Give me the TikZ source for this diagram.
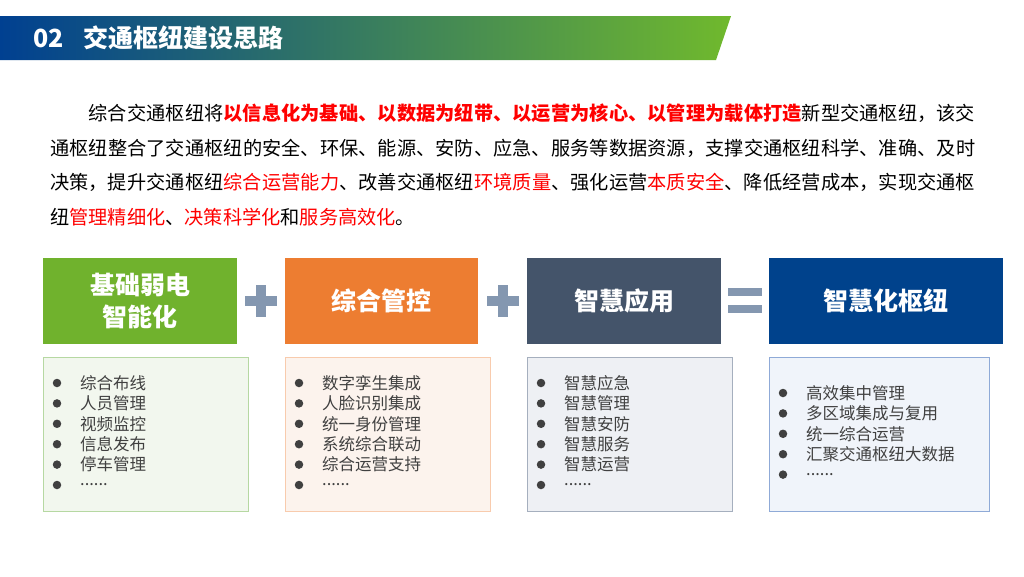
\documentclass[tikz,border=0pt]{standalone}
\usepackage{fontspec}
\setmainfont{Noto Sans CJK SC}
\XeTeXlinebreaklocale "zh"
\XeTeXlinebreakskip=0pt plus 1pt minus 0.5pt
\usepackage{xcolor}
\usepackage{tikz}
\usetikzlibrary{positioning, calc}
\definecolor{BannerBlue} {RGB}{0,  64, 145}
\definecolor{BannerGreen}{RGB}{112,185,45}
\definecolor{HeadGreen}  {RGB}{112,178,45}
\definecolor{HeadOrange} {RGB}{237,125,49}
\definecolor{HeadSlate}  {RGB}{68, 84, 106}
\definecolor{HeadBlue}   {RGB}{0,  66, 140}
\definecolor{SignGray}   {RGB}{132,151,176}
\definecolor{ItemText}   {RGB}{64, 64, 64}
\definecolor{KeyRed}     {RGB}{255,0,  0}
\definecolor{ListGreen}  {RGB}{242,247,238}
\definecolor{EdgeGreen}  {RGB}{182,216,162}
\definecolor{ListOrange} {RGB}{252,243,237}
\definecolor{EdgeOrange} {RGB}{248,203,173}
\definecolor{ListSlate}  {RGB}{238,240,244}
\definecolor{EdgeSlate}  {RGB}{165,175,190}
\definecolor{ListBlue}   {RGB}{240,244,250}
\definecolor{EdgeBlue}   {RGB}{143,170,215}
\newcommand{\moredots}{......}

\begin{document}
\begin{tikzpicture}[x=1pt,y=-1pt,
    head/.style={minimum height=86pt,inner sep=0pt,text=white,align=center,font=\fontsize{25}{32}\selectfont\bfseries},
    listbox/.style={minimum height=154pt,inner sep=0pt,anchor=north west},
    item/.style={anchor=west,inner sep=0pt,text=ItemText,font=\fontsize{16.5}{20}\selectfont},
    dot/.style={circle,fill=ItemText,inner sep=0pt,minimum size=8.5pt}]
  \fill[white] (0,0) rectangle (1024,576);
  \useasboundingbox (0,0) rectangle (1024,576);
  \shade[left color=BannerBlue,right color=BannerGreen] (0,16) -- (731,16) -- (716,60) -- (0,60) -- cycle;
  \node[anchor=west,inner sep=0pt,text=white,font=\fontsize{25}{30}\selectfont\bfseries] (title) at (33,38) {02\hspace{20pt}交通枢纽建设思路};
  \node[anchor=north west,inner sep=0pt,text width=925pt,align=justify,font=\fontsize{19.2}{34.5}\selectfont] (intro) at (50,104)
    {\hspace*{2em}综合交通枢纽将\textcolor{KeyRed}{\bfseries 以信息化为基础、以数据为纽带、以运营为核心、以管理为载体打造}新型交通枢纽，该交\linebreak
     通枢纽整合了交通枢纽的安全、环保、能源、安防、应急、服务等数据资源，支撑交通枢纽科学、准确、及时\linebreak
     决策，提升交通枢纽\textcolor{KeyRed}{综合运营能力}、改善交通枢纽\textcolor{KeyRed}{环境质量}、强化运营\textcolor{KeyRed}{本质安全}、降低经营成本，实现交通枢\linebreak
     纽\textcolor{KeyRed}{管理精细化}、\textcolor{KeyRed}{决策科学化}和\textcolor{KeyRed}{服务高效化}。};

  \foreach \n/\cx/\w/\col/\txt in {h1/140/194/HeadGreen/{基础弱电\\智能化},h2/381.5/193/HeadOrange/综合管控,
                                   h3/624/194/HeadSlate/智慧应用,h4/886/234/HeadBlue/智慧化枢纽}
    \node[head,fill=\col,minimum width=\w pt] (\n) at (\cx,301) {\txt};

  \path ($(h1.east)!0.5!(h2.west)$) coordinate (plusA)
        ($(h2.east)!0.5!(h3.west)$) coordinate (plusB)
        ($(h3.east)!0.5!(h4.west)$) coordinate (equal);
  \foreach \s in {plusA,plusB}{
    \fill[SignGray] ($(\s)+(-16,-5)$) rectangle ($(\s)+(16,5)$);
    \fill[SignGray] ($(\s)+(-5,-16)$) rectangle ($(\s)+(5,16)$);
  }
  \fill[SignGray] ($(equal)+(-17,-13)$) rectangle ($(equal)+(17,-5)$);
  \fill[SignGray] ($(equal)+(-17,4)$) rectangle ($(equal)+(17,12)$);

  \foreach \n/\lx/\w/\bg/\bd in {l1/43/205/ListGreen/EdgeGreen,l2/285/205/ListOrange/EdgeOrange,
                                 l3/527/205/ListSlate/EdgeSlate,l4/769/220/ListBlue/EdgeBlue}
    \node[listbox,fill=\bg,draw=\bd,minimum width=\w pt] (\n) at (\lx,357) {};

  \foreach \n/\y/\items in {l1/26/{综合布线,人员管理,视频监控,信息发布,停车管理,\moredots},
                            l2/26/{数字孪生集成,人脸识别集成,统一身份管理,系统综合联动,综合运营支持,\moredots},
                            l3/26/{智慧应急,智慧管理,智慧安防,智慧服务,智慧运营,\moredots},
                            l4/36/{高效集中管理,多区域集成与复用,统一综合运营,汇聚交通枢纽大数据,\moredots}}{
    \foreach \t [count=\j from 0] in \items {
      \node[dot] (\n d\j) at ($(\n.north west)+(14,\y+20.4*\j)$) {};
      \node[item] (\n t\j) at ($(\n.north west)+(37,\y+20.4*\j)$) {\t};
    }
  }
\end{tikzpicture}
\end{document}
